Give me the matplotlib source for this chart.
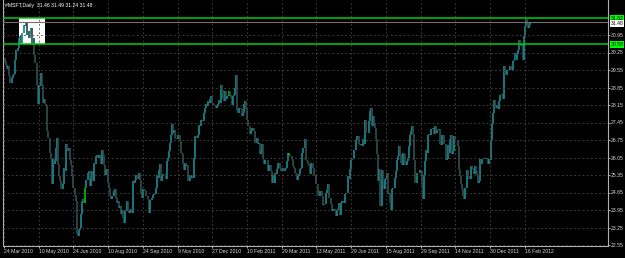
import numpy as np
import matplotlib.pyplot as plt

plt.rcParams['font.family'] = ['Liberation Sans', 'DejaVu Sans']

title = "#MSFT,Daily  31.46 31.49 31.24 31.48"

# daily closes, 24 Mar 2010 .. 24 Feb 2012 (one value per bar)
closes = [
    # Mar 2010
    30.05, 29.90, 29.75, 29.60, 29.70, 29.30,
    # Apr 2010
    29.05, 29.25, 29.35, 29.40, 29.95, 30.35, 30.30, 30.45, 30.85, 30.90, 30.65,
    31.05, 31.35, 31.30, 31.45, 30.95, 31.10, 30.85, 31.00, 31.25, 30.55,
    # May 2010
    30.85, 30.15, 29.85, 28.95, 28.20, 28.95, 28.90, 29.45, 28.95, 28.25, 28.40,
    28.20, 28.15, 27.10, 26.85, 26.25, 26.05, 25.00, 26.00, 25.80,
    # Jun 2010
    25.90, 26.45, 26.85, 25.80, 25.30, 25.10, 24.80, 25.00, 25.65, 25.50, 26.60,
    26.30, 26.35, 26.45, 25.95, 25.75, 25.30, 24.85, 24.55, 24.30, 23.00, 22.90,
    # Jul 2010
    23.15, 23.25, 23.80, 24.30, 24.40, 24.25, 24.85, 25.15, 25.45, 25.50, 24.90,
    25.25, 25.50, 25.10, 25.85, 25.80, 26.10, 26.15, 26.05, 26.15, 25.80,
    # Aug 2010
    26.35, 26.15, 25.75, 25.35, 25.55, 25.60, 25.05, 24.85, 24.50, 24.40, 24.50,
    24.70, 24.80, 24.45, 24.25, 24.30, 24.05, 24.10, 23.80, 23.95, 23.65, 23.45,
    # Sep 2010
    23.90, 24.30, 23.95, 23.85, 23.95, 24.00, 23.85, 25.10, 25.05, 25.15, 25.35,
    25.20, 25.45, 25.15, 24.60, 24.45, 24.80, 24.75, 24.70, 24.50, 24.50,
    # Oct 2010
    24.40, 23.85, 24.35, 24.45, 24.55, 24.60, 24.60, 24.85, 25.35, 25.25, 25.55,
    25.80, 25.10, 25.30, 25.40, 25.40, 25.20, 25.90, 26.05, 26.30, 26.65,
    # Nov 2010
    26.95, 27.40, 27.05, 27.15, 26.85, 26.80, 26.95, 26.95, 26.70, 26.25, 26.20,
    25.80, 25.55, 25.85, 25.70, 25.75, 25.10, 25.35, 25.25, 25.30, 25.25,
    # Dec 2010
    26.05, 26.90, 26.85, 26.85, 26.95, 27.35, 27.30, 27.55, 27.50, 27.85, 28.05,
    28.20, 28.10, 28.30, 28.25, 28.40, 28.50, 28.25, 28.20, 28.15, 28.05, 28.10,
    # Jan 2011
    28.20, 28.35, 28.25, 28.95, 28.75, 28.40, 28.30, 28.70, 28.40, 28.50, 28.70,
    28.55, 28.45, 28.15, 28.50, 28.55, 28.85, 29.35, 27.90, 27.85,
    # Feb 2011
    28.05, 28.00, 27.70, 27.85, 28.20, 28.30, 28.00, 27.55, 27.30, 27.30, 27.00,
    27.10, 27.25, 27.10, 26.65, 26.65, 26.85, 26.60, 26.65,
    # Mar 2011
    26.20, 26.30, 26.60, 26.00, 25.80, 25.95, 25.95, 25.50, 25.75, 25.75, 25.50,
    25.05, 25.35, 25.05, 25.45, 25.40, 25.60, 25.85, 25.65, 25.50, 25.55, 25.65,
    25.50,
    # Apr 2011
    25.60, 25.65, 25.90, 26.25, 26.15, 26.10, 26.00, 25.70, 25.65, 25.45, 25.40,
    25.15, 25.30, 25.40, 25.60, 25.65, 26.25, 26.45, 26.80, 25.95,
    # May 2011
    25.90, 25.80, 25.70, 25.40, 25.85, 25.85, 25.65, 25.35, 25.30, 25.00, 24.55,
    24.50, 24.70, 24.70, 24.50, 24.15, 24.20, 24.20, 24.65, 24.75, 25.00,
    # Jun 2011
    24.45, 24.20, 23.90, 24.00, 24.00, 23.90, 23.70, 23.95, 24.00, 24.25, 23.75,
    24.25, 24.30, 24.25, 24.60, 24.65, 24.65, 25.30, 25.20, 25.60, 25.95, 26.00,
    # Jul 2011
    26.00, 26.35, 26.75, 26.90, 26.90, 26.60, 26.55, 26.60, 26.50, 26.80, 26.60,
    27.55, 27.05, 27.05, 27.50, 27.90, 28.05, 27.30, 27.70, 27.40,
    # Aug 2011
    27.25, 26.80, 26.20, 25.10, 25.60, 24.10, 25.55, 25.10, 24.80, 25.20, 25.25,
    25.45, 24.60, 24.65, 24.25, 23.95, 24.80, 24.85, 25.25, 25.50, 25.95, 26.10,
    26.50,
    # Sep 2011
    26.20, 25.85, 25.75, 26.25, 26.20, 25.75, 25.90, 26.05, 26.50, 26.95, 27.10,
    27.30, 27.00, 25.95, 25.05, 25.05, 25.45, 25.45, 25.55, 25.50, 24.90,
    # Oct 2011
    24.40, 25.35, 25.90, 26.35, 26.25, 26.95, 27.00, 26.95, 27.20, 27.25, 27.00,
    27.30, 27.05, 27.15, 27.15, 27.20, 26.60, 26.55, 26.95, 26.95, 26.60,
    # Nov 2011
    25.95, 26.00, 26.55, 26.25, 26.80, 26.95, 26.20, 26.30, 26.90, 26.75, 26.75,
    26.50, 25.55, 25.30, 25.00, 24.80, 24.50, 24.40, 24.85, 24.85, 25.55,
    # Dec 2011
    25.30, 25.20, 25.70, 25.65, 25.60, 25.40, 25.70, 25.50, 25.35, 25.05, 25.10,
    26.00, 25.80, 26.00, 26.05, 26.00, 26.05, 26.05, 25.80, 26.00, 25.95,
    # Jan 2012
    26.75, 27.40, 27.85, 28.35, 28.05, 28.15, 28.00, 28.30, 28.55, 28.55, 28.60,
    28.40, 29.70, 29.35, 29.35, 29.55, 29.55, 29.70, 29.60, 29.55,
    # Feb 2012
    29.90, 29.95, 30.25, 29.95, 30.20, 30.35, 30.75, 30.50, 30.60, 29.95, 30.90,
    31.30, 31.60, 31.45, 31.25, 31.35, 31.48,
]

date_ticks = [0, 32, 64, 96, 128, 160, 192, 224, 256, 288, 320, 352, 384, 416, 448, 480]
date_labels = ["24 Mar 2010", "10 May 2010", "24 Jun 2010", "10 Aug 2010", "24 Sep 2010",
               "9 Nov 2010", "27 Dec 2010", "10 Feb 2011", "29 Mar 2011", "13 May 2011",
               "29 Jun 2011", "15 Aug 2011", "29 Sep 2011", "14 Nov 2011", "30 Dec 2011",
               "16 Feb 2012"]
price_ticks = [30.95, 30.25, 29.55, 28.85, 28.15, 27.45, 26.75, 26.05,
               25.35, 24.65, 23.95, 23.25, 22.55]
green_levels = [31.62, 30.58]
bid_level = 31.48
green_bars = [75, 207, 263, 400]
box_start, box_end = 14, 38

W, H = 625, 258
FS = 3.7
fig = plt.figure(figsize=(W / 100, H / 100), dpi=100, facecolor='black')
ax = fig.add_axes([3 / W, 12 / H, 605 / W, 246 / H], facecolor='black')

c = np.array(closes)
x = np.arange(len(c))
prev = np.r_[c[0], c[:-1]]
lo = np.minimum(prev, c)
hi = np.maximum(prev, c)
cols = np.where(c >= prev, '#18868c', '#2f4d4f').astype(object)
for i in green_bars:
    cols[i] = '#00c000'

# rectangle object
ax.fill_between([box_start, box_end], green_levels[1], green_levels[0],
                color='white', zorder=1, lw=0)

ax.vlines(x, lo, hi, colors=list(cols), lw=1.25, zorder=3)

# grid
for p in price_ticks:
    ax.axhline(p, color='#4a4a4a', lw=0.6, ls=(0, (2, 3)), zorder=4)
for t in date_ticks:
    ax.axvline(t, color='#4a4a4a', lw=0.6, ls=(0, (2, 3)), zorder=4)

for g in green_levels:
    ax.axhline(g, color='#00d000', lw=1.1, zorder=5)
ax.axhline(bid_level, color='#707070', lw=0.8, zorder=5)

ax.set_xlim(-0.9, -0.9 + 605 / 1.085)
ax.set_ylim(22.55 - 1 / 25, 22.55 + 245 / 25)

ax.yaxis.tick_right()
ax.set_yticks(price_ticks)
ax.set_yticklabels([f"{p:.2f}" for p in price_ticks])
ax.set_xticks(date_ticks)
ax.set_xticklabels(date_labels, ha='left')
ax.tick_params(axis='both', colors='#c8c8c8', labelcolor='#d8d8d8',
               labelsize=FS, length=1.5, width=0.6, pad=0.8)

for side in ['left', 'right', 'bottom']:
    ax.spines[side].set_color('#b0b0b0')
    ax.spines[side].set_linewidth(0.8)
ax.spines['top'].set_visible(False)

for g in green_levels:
    ax.text(1.004, g, f"{g:.2f}", transform=ax.get_yaxis_transform(), fontsize=FS,
            color='black', va='center', ha='left', clip_on=False, zorder=6,
            bbox=dict(boxstyle='square,pad=0.15', fc='#00ff00', ec='none'))
ax.text(1.004, bid_level - 0.07, f"{bid_level:.2f}", transform=ax.get_yaxis_transform(),
        fontsize=FS, color='black', va='center', ha='left', clip_on=False, zorder=6,
        bbox=dict(boxstyle='square,pad=0.15', fc='white', ec='none'))

fig.text(5 / W, 1 - 5 / H, title, color='white', fontsize=FS, va='center', ha='left')

fig.savefig('out.png', dpi=100, facecolor='black')
